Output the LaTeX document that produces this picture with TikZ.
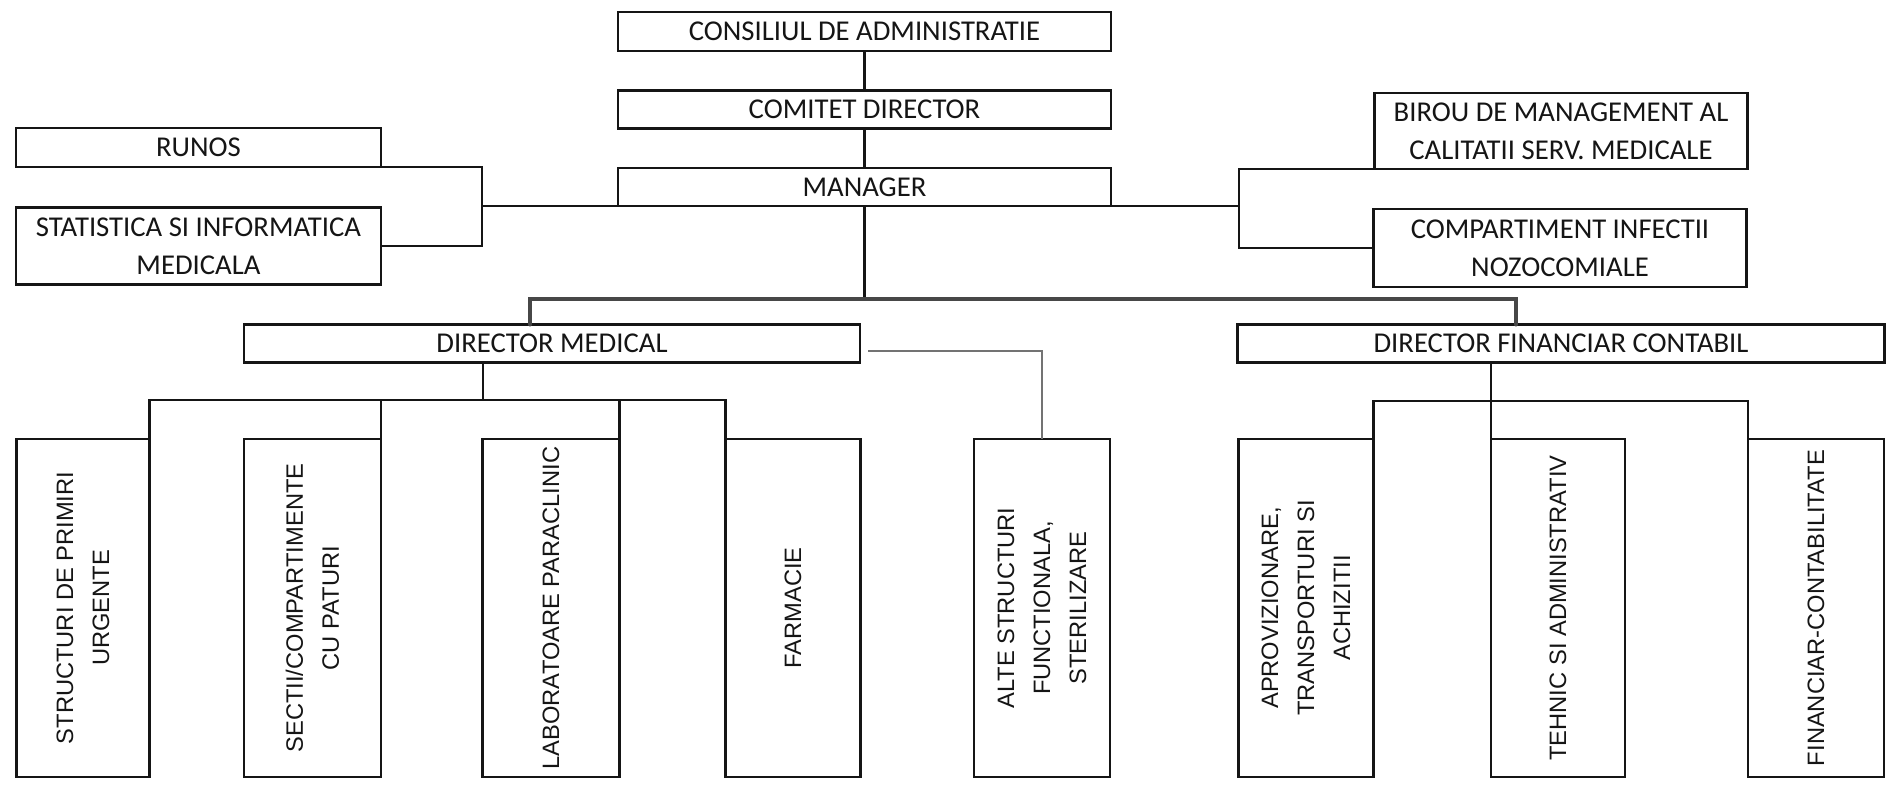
\documentclass[tikz,border=0pt]{standalone}
\usepackage{fontspec}
\setmainfont{Carlito}
\newfontfamily\arialfont{Liberation Sans}
\newcommand{\myhtext}{\fontsize{28.7}{38}\selectfont}
\newcommand{\myvtext}{\arialfont\fontsize{23.7}{36}\selectfont}
\definecolor{ink}{HTML}{151515}
\begin{document}
\begin{tikzpicture}[x=1pt,y=-1pt,
  box/.style={draw=ink,line width=2.5pt,fill=white,inner sep=0pt,outer sep=0pt,align=center,font=\myhtext,text=ink},
  vbox/.style={draw=ink,line width=2.5pt,fill=white,inner sep=0pt,outer sep=0pt,minimum height=338pt},
  vlab/.style={inner sep=0pt,align=center,font=\myvtext,text=ink,rotate=90},
  ln/.style={draw=ink,line width=2.3pt},
  bar/.style={draw=black!72,line width=4pt,line cap=round},
  gln/.style={draw=black!55,line width=2pt}]
\fill[white] (0,0) rectangle (1892,798);
\useasboundingbox (0,0) rectangle (1892,798);

% top column
\node[box,minimum width=493pt,minimum height=39pt] (cons) at (864.5,31.5) {CONSILIUL DE ADMINISTRATIE};
\node[box,minimum width=493pt,minimum height=38pt] (comit) at (864.5,109.5) {COMITET DIRECTOR};
\node[box,minimum width=493pt,minimum height=38pt] (mgr) at (864.5,187) {MANAGER};

% side boxes
\node[box,minimum width=365pt,minimum height=39pt] (runos) at (198.5,147.5) {RUNOS};
\node[box,minimum width=365pt,minimum height=77pt] (stat) at (198.5,246) {STATISTICA SI INFORMATICA\\MEDICALA};
\node[box,minimum width=373pt,minimum height=76pt] (biro) at (1561,131) {BIROU DE MANAGEMENT AL\\CALITATII SERV. MEDICALE};
\node[box,minimum width=373pt,minimum height=78pt] (comp) at (1560,248) {COMPARTIMENT INFECTII\\NOZOCOMIALE};

% directors
\node[box,minimum width=616pt,minimum height=38pt] (dm) at (552,343.5) {DIRECTOR MEDICAL};
\node[box,minimum width=647pt,minimum height=38pt] (dfc) at (1561,343.5) {DIRECTOR FINANCIAR CONTABIL};

% bottom boxes
\node[vbox,minimum width=133pt] (s1) at (83,608) {};
\node[vlab] (s1t) at (s1) {STRUCTURI DE PRIMIRI\\URGENTE};
\node[vbox,minimum width=137pt] (sec) at (312.5,608) {};
\node[vlab] (sect) at (sec) {SECTII/COMPARTIMENTE\\CU PATURI};
\node[vbox,minimum width=137pt] (lab) at (551,608) {};
\node[vlab] (labt) at (lab) {LABORATOARE PARACLINIC};
\node[vbox,minimum width=135pt] (farm) at (793,608) {};
\node[vlab] (farmt) at (farm) {FARMACIE};
\node[vbox,minimum width=136pt] (alte) at (1042,608) {};
\node[vlab] (altet) at (alte) {ALTE STRUCTURI\\FUNCTIONALA,\\STERILIZARE};
\node[vbox,minimum width=135pt] (apro) at (1306,608) {};
\node[vlab] (aprot) at (apro) {APROVIZIONARE,\\TRANSPORTURI SI\\ACHIZITII};
\node[vbox,minimum width=134pt] (teh) at (1558,608) {};
\node[vlab] (teht) at (teh) {TEHNIC SI ADMINISTRATIV};
\node[vbox,minimum width=136pt] (fin) at (1816,608) {};
\node[vlab] (fint) at (fin) {FINANCIAR-CONTABILITATE};

% connectors top
\draw[ln] (cons) -- (comit);
\draw[ln] (comit) -- (mgr);
\coordinate (lb) at (482,206);
\coordinate (rb) at (1239,206);
\draw[ln] (runos.south east) -| (lb) |- (stat.east);
\draw[ln] (lb) -- (mgr.south west) -- (mgr.south east) -- (rb);
\draw[ln] (biro.south west) -| (rb) |- (comp.west);

% manager to directors
\coordinate (tm) at (864.5,299);
\coordinate (tl) at (530,299);
\coordinate (tr) at (1516,299);
\draw[ln] (mgr.south) -- (tm);
\draw[bar] (dm.north -| tl) -- (tl) -- (tr) -- (dfc.north -| tr);

% medical bracket
\coordinate (mb) at (483,400);
\draw[ln] (dm.south -| mb) -- (mb);
\draw[ln] (s1.north east) -- (s1.north east |- mb) -- (farm.north west |- mb) -- (farm.north west);
\draw[ln] (sec.north east) -- (sec.north east |- mb);
\draw[ln] (lab.north east) -- (lab.north east |- mb);
\draw[gln] ([shift={(8pt,-7pt)}]dm.east) -| (alte.north);

% financial bracket
\coordinate (fb) at (1492,401);
\draw[ln] (dfc.south -| teh.north west) -- (teh.north west);
\draw[ln] (apro.north east) -- (apro.north east |- fb) -- (fin.north west |- fb) -- (fin.north west);
\end{tikzpicture}
\end{document}
